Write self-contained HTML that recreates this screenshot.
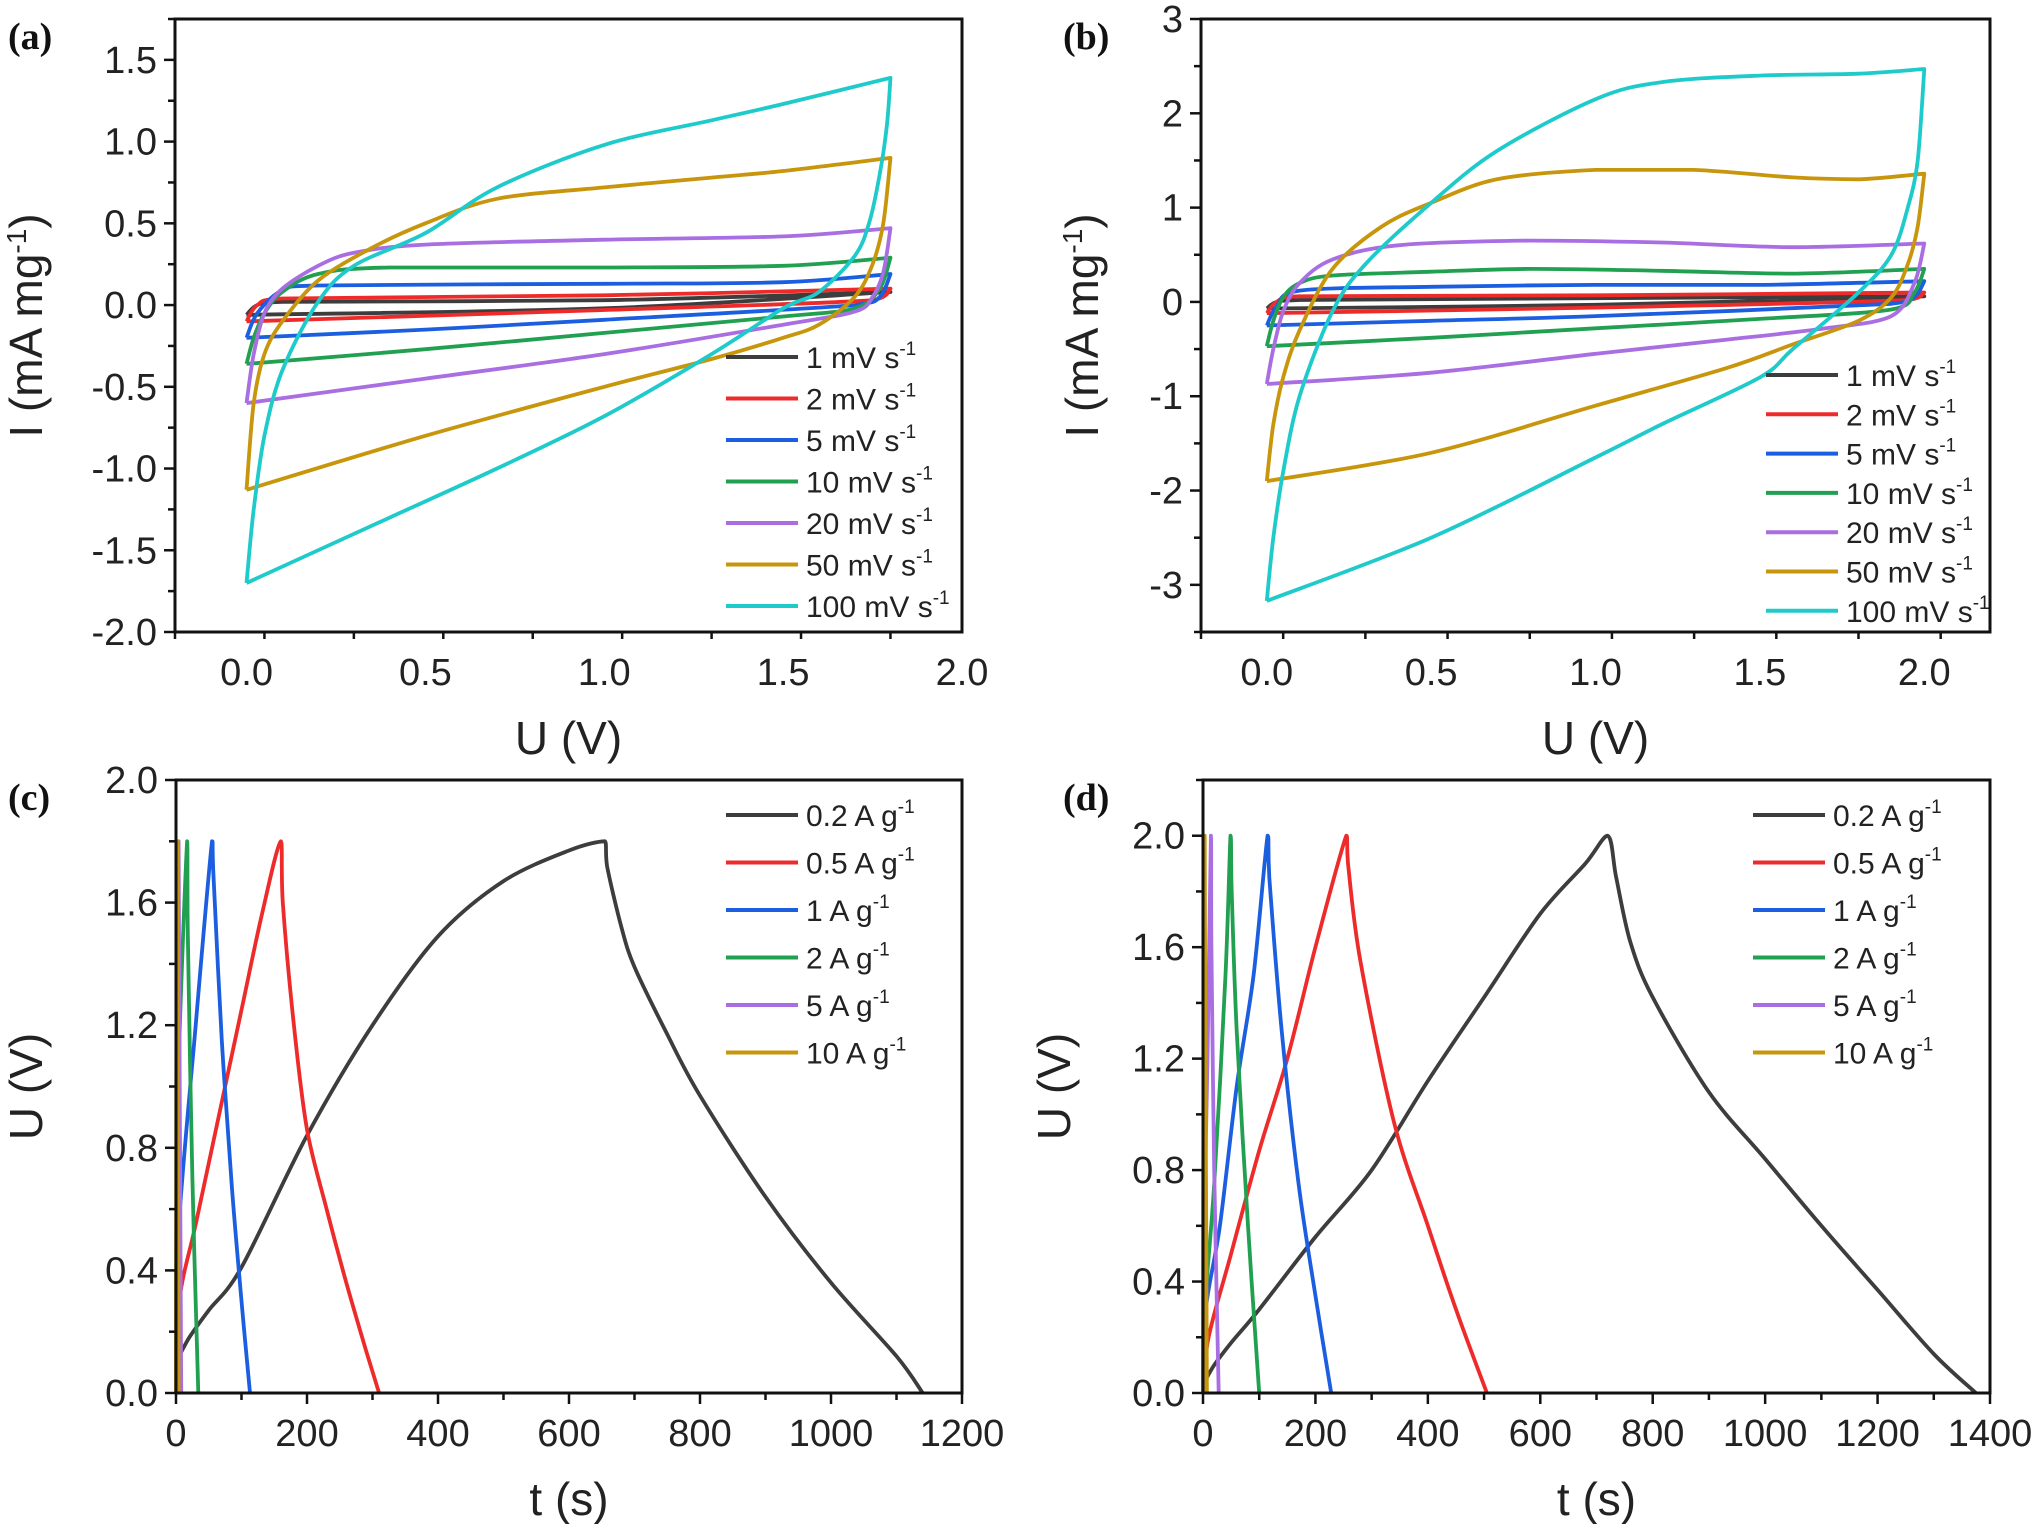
<!DOCTYPE html>
<html><head><meta charset="utf-8">
<style>
html,body{margin:0;padding:0;background:#fff;}
svg{display:block;}
text{font-family:"Liberation Sans",Arial,sans-serif;fill:#222;}
.pl{font-family:"Liberation Serif",serif;font-weight:bold;font-size:38px;fill:#111;}
</style></head>
<body>
<svg id="fig" width="2034" height="1524" viewBox="0 0 2034 1524" xmlns="http://www.w3.org/2000/svg"></svg>
<script>
// ---------- data ----------
const cvLabels = ["1 mV s","2 mV s","5 mV s","10 mV s","20 mV s","50 mV s","100 mV s"];
const gcdLabels = ["0.2 A g","0.5 A g","1 A g","2 A g","5 A g","10 A g"];
const colors = ["#3d3d3d","#ee2b2b","#1b5fe0","#22a052","#a96ee2","#c8960c","#1fcaca"];

// Panel (a) CV loops: V and I
const aV_1 = [0,0.03,0.1,1.0,1.8,1.0,0];
const aI_1 = [-0.06,0.0,0.02,0.03,0.08,-0.02,-0.06];
const aV_2 = [0,0.03,0.1,1.0,1.8,1.75,1.0,0];
const aI_2 = [-0.1,0.0,0.04,0.06,0.1,0.03,-0.03,-0.1];
const aV_5 = [0,0.03,0.1,0.2,1.0,1.5,1.8,1.77,1.7,1.0,0.5,0];
const aI_5 = [-0.2,-0.05,0.09,0.12,0.13,0.14,0.19,0.05,0.0,-0.09,-0.15,-0.2];
const aV_10 = [0,0.02,0.05,0.1,0.2,0.4,1.0,1.5,1.8,1.77,1.7,1.5,1.0,0.5,0];
const aI_10 = [-0.36,-0.2,-0.05,0.08,0.19,0.23,0.23,0.24,0.29,0.1,-0.02,-0.07,-0.17,-0.27,-0.36];
const aV_20 = [0,0.02,0.05,0.1,0.2,0.3,0.5,1.0,1.5,1.8,1.78,1.75,1.7,1.5,1.0,0.5,0];
const aI_20 = [-0.6,-0.3,-0.05,0.1,0.24,0.32,0.37,0.4,0.42,0.47,0.2,0.05,-0.04,-0.12,-0.3,-0.45,-0.6];
const aV_50 = [0,0.02,0.05,0.1,0.2,0.35,0.5,0.7,1.0,1.3,1.5,1.8,1.78,1.75,1.7,1.6,1.5,1.3,1.0,0.5,0];
const aI_50 = [-1.13,-0.6,-0.3,-0.1,0.15,0.35,0.5,0.65,0.72,0.78,0.82,0.9,0.5,0.25,0.05,-0.12,-0.2,-0.33,-0.5,-0.8,-1.13];
const aV_100 = [0,0.02,0.05,0.1,0.2,0.3,0.5,0.7,1.0,1.3,1.5,1.8,1.79,1.77,1.74,1.7,1.6,1.5,1.3,1.0,0.7,0.4,0];
const aI_100 = [-1.7,-1.25,-0.8,-0.4,0.02,0.24,0.44,0.72,0.98,1.13,1.23,1.39,1.1,0.8,0.5,0.3,0.08,-0.02,-0.3,-0.68,-1.0,-1.3,-1.7];

// Panel (b) CV loops
const bV_1 = [0,0.03,0.1,2.0,1.0,0];
const bI_1 = [-0.07,0.0,0.02,0.06,-0.03,-0.07];
const bV_2 = [0,0.03,0.1,1.0,2.0,1.95,1.0,0];
const bI_2 = [-0.12,0.0,0.06,0.07,0.1,0.02,-0.06,-0.12];
const bV_5 = [0,0.03,0.1,0.5,1.0,1.5,2.0,1.97,1.9,1.0,0.5,0];
const bI_5 = [-0.25,-0.05,0.12,0.16,0.18,0.18,0.22,0.05,-0.02,-0.15,-0.2,-0.25];
const bV_10 = [0,0.02,0.05,0.1,0.2,0.5,0.8,1.2,1.6,2.0,1.97,1.9,1.5,1.0,0.5,0];
const bI_10 = [-0.47,-0.2,0.05,0.2,0.28,0.32,0.35,0.33,0.3,0.35,0.1,-0.08,-0.18,-0.28,-0.38,-0.47];
const bV_20 = [0,0.02,0.05,0.1,0.2,0.4,0.8,1.2,1.6,2.0,1.97,1.9,1.7,1.4,1.0,0.5,0];
const bI_20 = [-0.87,-0.5,-0.1,0.2,0.45,0.6,0.65,0.63,0.58,0.62,0.2,-0.15,-0.28,-0.4,-0.55,-0.75,-0.87];
const bV_50 = [0,0.02,0.05,0.1,0.2,0.35,0.5,0.7,1.0,1.3,1.6,1.8,2.0,1.98,1.95,1.9,1.8,1.6,1.4,1.0,0.5,0];
const bI_50 = [-1.9,-1.3,-0.8,-0.3,0.35,0.8,1.05,1.3,1.4,1.4,1.32,1.3,1.36,0.8,0.4,0.05,-0.2,-0.45,-0.7,-1.1,-1.6,-1.9];
const bV_100 = [0,0.02,0.05,0.1,0.2,0.3,0.5,0.7,1.0,1.2,1.5,1.8,2.0,1.98,1.95,1.9,1.8,1.6,1.5,1.2,1.0,0.5,0];
const bI_100 = [-3.17,-2.5,-1.8,-1.0,-0.1,0.4,1.05,1.6,2.15,2.33,2.4,2.42,2.47,1.5,1.0,0.5,0.1,-0.5,-0.8,-1.3,-1.65,-2.5,-3.17];

// Panel (c) GCD
const cT_02 = [0,20,50,100,200,300,400,500,600,655,658,680,700,750,800,900,1000,1100,1140];
const cU_02 = [0.1,0.18,0.27,0.41,0.84,1.2,1.49,1.67,1.77,1.8,1.72,1.52,1.39,1.17,0.97,0.64,0.36,0.12,0];
const cT_05 = [0,5,30,60,100,130,160,163,180,200,230,260,290,310];
const cU_05 = [0,0.3,0.55,0.85,1.25,1.55,1.8,1.6,1.2,0.86,0.6,0.36,0.14,0];
const cT_1 = [0,3,30,55,57,70,85,100,113];
const cU_1 = [0,0.5,1.2,1.8,1.7,1.15,0.68,0.3,0];
const cT_2 = [0,2,17,18,25,34];
const cU_2 = [0,0.9,1.8,1.5,0.7,0];
const cT_5 = [0,1,4,5,8];
const cU_5 = [0,0.8,1.8,1.3,0];
const cT_10 = [0,0.5,2,3,4];
const cU_10 = [0,1,1.8,0.8,0];

// Panel (d) GCD
const dT_02 = [0,20,50,100,200,300,400,500,600,680,720,735,760,800,900,1000,1100,1200,1300,1375];
const dU_02 = [0.03,0.1,0.18,0.3,0.56,0.8,1.12,1.42,1.72,1.9,2.0,1.85,1.62,1.42,1.08,0.84,0.6,0.37,0.14,0];
const dT_05 = [0,10,50,100,150,200,255,258,280,340,400,450,505];
const dU_05 = [0,0.2,0.5,0.87,1.2,1.6,2.0,1.9,1.55,0.97,0.6,0.3,0];
const dT_1 = [0,5,30,60,90,115,118,140,170,200,228];
const dU_1 = [0,0.3,0.6,1.1,1.5,2.0,1.85,1.3,0.75,0.35,0];
const dT_2 = [0,3,20,40,49,51,60,80,100];
const dU_2 = [0,0.3,0.75,1.5,2.0,1.8,1.3,0.6,0];
const dT_5 = [0,1,8,14,15,20,28];
const dU_5 = [0,0.5,1.2,2.0,1.6,0.8,0];
const dT_10 = [0,0.5,3,4,7];
const dU_10 = [0,0.8,2.0,1.4,0];

const aTicksX = [0,0.5,1.0,1.5,2.0];
const aTicksY = [-2.0,-1.5,-1.0,-0.5,0.0,0.5,1.0,1.5];
const bTicksX = [0,0.5,1.0,1.5,2.0];
const bTicksY = [-3,-2,-1,0,1,2,3];
const cTicksX = [0,200,400,600,800,1000,1200];
const cTicksY = [0,0.4,0.8,1.2,1.6,2.0];
const dTicksX = [0,200,400,600,800,1000,1200,1400];
const dTicksY = [0,0.4,0.8,1.2,1.6,2.0];

// ---------- drawing ----------
const NS = "http://www.w3.org/2000/svg";
const svg = document.getElementById('fig');
function el(tag, attrs, parent){
  const e = document.createElementNS(NS, tag);
  for (const k in attrs) e.setAttribute(k, attrs[k]);
  (parent||svg).appendChild(e);
  return e;
}
const clamp = (v,a,b) => Math.max(Math.min(a,b), Math.min(Math.max(a,b), v));

// smooth path: split at x-direction reversals, Catmull-Rom with control points clamped to segment box
function smoothPath(P){
  const runs = [];
  let cur = [P[0]];
  for (let i=1;i<P.length;i++){
    cur.push(P[i]);
    if (i < P.length-1){
      const d1 = P[i][0]-P[i-1][0], d2 = P[i+1][0]-P[i][0];
      if (d1*d2 < 0){ runs.push(cur); cur=[P[i]]; }
    }
  }
  runs.push(cur);
  let d = 'M' + P[0][0].toFixed(1) + ',' + P[0][1].toFixed(1);
  runs.forEach(r => {
    for (let i=0;i<r.length-1;i++){
      const p0 = r[Math.max(0,i-1)], p1=r[i], p2=r[i+1], p3=r[Math.min(r.length-1,i+2)];
      const t = 0.16;
      let c1x = clamp(p1[0]+(p2[0]-p0[0])*t, p1[0], p2[0]), c1y = clamp(p1[1]+(p2[1]-p0[1])*t, p1[1], p2[1]);
      let c2x = clamp(p2[0]-(p3[0]-p1[0])*t, p1[0], p2[0]), c2y = clamp(p2[1]-(p3[1]-p1[1])*t, p1[1], p2[1]);
      d += ' C'+c1x.toFixed(1)+','+c1y.toFixed(1)+' '+c2x.toFixed(1)+','+c2y.toFixed(1)+' '+p2[0].toFixed(1)+','+p2[1].toFixed(1);
    }
  });
  return d;
}

function panel(cfg){
  const g = el('g', {});
  
  
  const L=cfg.L,R=cfg.R,T=cfg.T,B=cfg.B;
  const sx = v => L + (v - cfg.x0)/(cfg.x1 - cfg.x0)*(R-L);
  const sy = v => B - (v - cfg.y0)/(cfg.y1 - cfg.y0)*(B-T);
  const lbl = el('text', {x:cfg.labX, y:T+30, class:'pl'}, g);
  lbl.textContent = '(' + cfg.id + ')';
  
  
  const sg = el('g', {}, g);
  
  
  cfg.series.forEach((s, i) => {
    const P = s.x.map((v, j) => [sx(v), sy(s.y[j])]);
    const p = el('path', {d:smoothPath(P), fill:'none', stroke:s.color, 'stroke-width':3.8, 'stroke-linejoin':'round'}, sg);
    
    
  });
  const fr = el('rect', {x:L, y:T, width:R-L, height:B-T, fill:'none', stroke:'#111', 'stroke-width':3}, g);
  
  
  const xt = cfg.ticksX;
  const xstep = xt[1]-xt[0];
  for (let v = cfg.x0; v <= cfg.x1 + 1e-9; v += xstep/2){
    const isMaj = xt.some(t => Math.abs(t - v) < 1e-6);
    el('line', {x1:sx(v), x2:sx(v), y1:B, y2:B + (isMaj?11:7), stroke:'#111', 'stroke-width':2.5}, g);
  }
  xt.forEach(v => {
    const t = el('text', {x:sx(v), y:B+53, 'font-size':38, 'text-anchor':'middle'}, g);
    t.textContent = cfg.fmtX(v);
    
    
  });
  const yt = cfg.ticksY;
  const ystep = yt[1]-yt[0];
  for (let v = cfg.y0; v <= cfg.y1 + 1e-9; v += ystep/2){
    const isMaj = yt.some(t => Math.abs(t - v) < 1e-6);
    el('line', {x1:L, x2:L - (isMaj?11:7), y1:sy(v), y2:sy(v), stroke:'#111', 'stroke-width':2.5}, g);
  }
  yt.forEach(v => {
    const t = el('text', {x:L-18, y:sy(v)+13, 'font-size':38, 'text-anchor':'end'}, g);
    t.textContent = cfg.fmtY(v);
    
    
  });
  const xtT = el('text', {x:(L+R)/2, y:B+122, 'font-size':46, 'text-anchor':'middle'}, g);
  xtT.textContent = cfg.xTitle;
  
  
  const ytT = el('text', {x:0, y:0, 'font-size':46, 'text-anchor':'middle', transform:`translate(${cfg.yTitleX},${(T+B)/2}) rotate(-90)`}, g);
  
  
  ytT.innerHTML = cfg.yTitle;
  const lg = el('g', {}, g);
  
  
  cfg.series.forEach((s, i) => {
    const y = cfg.legY + i*cfg.legDy;
    const row = el('g', {}, lg);
    
    
    el('line', {x1:cfg.legX, x2:cfg.legX+72, y1:y, y2:y, stroke:s.color, 'stroke-width':4}, row);
    const t = el('text', {x:cfg.legX+80, y:y+11, 'font-size':30}, row);
    t.innerHTML = s.name + '<tspan dy="-13" font-size="19">-1</tspan>';
  });
}

const cvA = [aV_1,aV_2,aV_5,aV_10,aV_20,aV_50,aV_100];
const cvAI = [aI_1,aI_2,aI_5,aI_10,aI_20,aI_50,aI_100];
const cvB = [bV_1,bV_2,bV_5,bV_10,bV_20,bV_50,bV_100];
const cvBI = [bI_1,bI_2,bI_5,bI_10,bI_20,bI_50,bI_100];
const gcC = [cT_02,cT_05,cT_1,cT_2,cT_5,cT_10];
const gcCU = [cU_02,cU_05,cU_1,cU_2,cU_5,cU_10];
const gcD = [dT_02,dT_05,dT_1,dT_2,dT_5,dT_10];
const gcDU = [dU_02,dU_05,dU_1,dU_2,dU_5,dU_10];

const cvYTitle = 'I (mA mg<tspan dy="-16" font-size="28">-1</tspan><tspan dy="16">)</tspan>';
const f1 = v => v.toFixed(1);
const f0 = v => String(Math.round(v));

panel({id:'a', L:175, R:962, T:19, B:632, x0:-0.2, x1:2.0, y0:-2.0, y1:1.75,
  ticksX:aTicksX, ticksY:aTicksY, fmtX:f1, fmtY:f1, xTitle:'U (V)', yTitle:cvYTitle, yTitleX:42, labX:8,
  legX:726, legY:357, legDy:41.5,
  series: cvA.map((x,i)=>({x:x, y:cvAI[i], color:colors[i], name:cvLabels[i]}))});
panel({id:'b', L:1201, R:1990, T:19, B:632, x0:-0.2, x1:2.2, y0:-3.5, y1:3,
  ticksX:bTicksX, ticksY:bTicksY, fmtX:f1, fmtY:f0, xTitle:'U (V)', yTitle:cvYTitle, yTitleX:1098, labX:1063,
  legX:1766, legY:375, legDy:39.3,
  series: cvB.map((x,i)=>({x:x, y:cvBI[i], color:colors[i], name:cvLabels[i]}))});
panel({id:'c', L:176, R:962, T:780, B:1393, x0:0, x1:1200, y0:0, y1:2.0,
  ticksX:cTicksX, ticksY:cTicksY, fmtX:f0, fmtY:f1, xTitle:'t (s)', yTitle:'U (V)', yTitleX:42, labX:8,
  legX:726, legY:815, legDy:47.5,
  series: gcC.map((x,i)=>({x:x, y:gcCU[i], color:colors[i], name:gcdLabels[i]}))});
panel({id:'d', L:1203, R:1990, T:780, B:1393, x0:0, x1:1400, y0:0, y1:2.2,
  ticksX:dTicksX, ticksY:dTicksY, fmtX:f0, fmtY:f1, xTitle:'t (s)', yTitle:'U (V)', yTitleX:1070, labX:1063,
  legX:1753, legY:815, legDy:47.5,
  series: gcD.map((x,i)=>({x:x, y:gcDU[i], color:colors[i], name:gcdLabels[i]}))});
</script>
</body></html>
